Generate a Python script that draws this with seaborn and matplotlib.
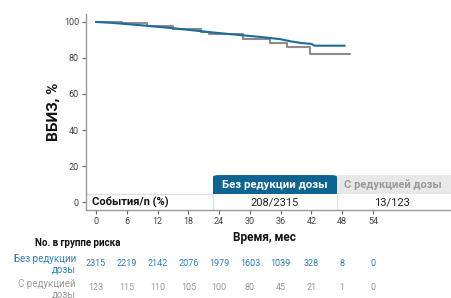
import matplotlib
matplotlib.use("Agg")
import matplotlib.pyplot as plt
from matplotlib.patches import Rectangle, FancyBboxPatch
import pandas as pd
import seaborn as sns

# кривые выживаемости (месяцы, %)
months_no_red = [0, 3, 6, 9, 12, 15, 18, 21, 24, 27, 30, 33, 36, 38, 40, 42, 42.6, 48.5]
surv_no_red = [100, 99.5, 98.8, 98.1, 97.3, 96.5, 95.6, 94.7, 93.8, 93.0, 92.2, 91.4, 90.4,
               89.2, 88.3, 87.8, 86.8, 86.8]
months_red = [0, 5, 10, 15, 20.5, 22, 28.6, 34, 37.2, 41.8, 49.5]
surv_red = [100, 99.3, 98.0, 96.0, 94.6, 93.3, 90.6, 88.2, 86.0, 82.0, 82.0]

x_ticks = [0, 6, 12, 18, 24, 30, 36, 42, 48, 54]
y_ticks = [0, 20, 40, 60, 80, 100]
risk_no_red = [2315, 2219, 2142, 2076, 1979, 1603, 1039, 328, 8, 0]
risk_red = [123, 115, 110, 105, 100, 80, 45, 21, 1, 0]
groups = ["Без редукции дозы", "С редукцией дозы"]
events = ["208/2315", "13/123"]

BLUE = "#1b6c9e"
BLUE_DARK = "#0e6490"
BLUE_TXT = "#2f82b8"
GREY = "#8c8c8c"
GREY_TXT = "#9a9a9a"

sns.set_style("white")
plt.rcParams["font.family"] = ["Roboto", "DejaVu Sans"]

W, H = 452, 298
fig = plt.figure(figsize=(W / 100, H / 100), dpi=100)


def fx(px):
    return px / W


def fy(py):
    return 1 - py / H


ax = fig.add_axes([fx(86), fy(210), fx(452) - fx(86), fy(14) - fy(210)])

df = pd.concat([
    pd.DataFrame({"t": months_no_red, "s": surv_no_red, "g": groups[0]}),
    pd.DataFrame({"t": months_red, "s": surv_red, "g": groups[1]}),
])
sns.lineplot(data=df[df.g == groups[1]], x="t", y="s", color=GREY, lw=1.5,
             drawstyle="steps-post", estimator=None, ax=ax, zorder=3)
sns.lineplot(data=df[df.g == groups[0]], x="t", y="s", color=BLUE, lw=1.5,
             estimator=None, ax=ax, zorder=4)

ax.set_xlim(-1.95, 69.4)
ax.set_ylim(-4.4, 104.4)
ax.set_xticks(x_ticks)
ax.set_yticks(y_ticks)
ax.tick_params(axis="both", direction="out", length=3, width=0.8, color="#666666",
               labelsize=6.5, labelcolor="#444444", pad=2, bottom=True, left=True)
for s in ["top", "right"]:
    ax.spines[s].set_visible(False)
for s in ["left", "bottom"]:
    ax.spines[s].set_color("#999999")
    ax.spines[s].set_linewidth(1.0)
ax.set_xlabel("")
ax.set_ylabel("ВБИЗ, %", fontsize=11, fontweight="bold", color="#111111", labelpad=2)

# таблица событий
hdr_bot, hdr_top = 4.4, 15.0
x1, x2, x3 = 22.8, 47.0, 69.4
ax.add_patch(FancyBboxPatch((x1, hdr_bot - 3), x2 - x1, hdr_top - hdr_bot + 3,
                            boxstyle="round,pad=0,rounding_size=1.2",
                            mutation_aspect=1.8 / 5.13 * 2.5,
                            fc=BLUE_DARK, ec="none", zorder=1, clip_on=False))
ax.add_patch(Rectangle((x2, hdr_bot), x3 - x2, hdr_top - hdr_bot, fc="#e8e8e8",
                       ec="none", zorder=1))
ax.add_patch(Rectangle((-1.95, -4.4), 71.35, hdr_bot + 4.4, fc="white", ec="none", zorder=1.5))
ax.plot([-1.95, x1], [hdr_bot, hdr_bot], color="#dddddd", lw=0.8, zorder=1.6)
for xv in [x1, x2]:
    ax.plot([xv, xv], [-4.4, hdr_bot], color="#dddddd", lw=0.8, zorder=1.6)
hy = (hdr_bot + hdr_top) / 2 - 0.3
ax.text((x1 + x2) / 2, hy, groups[0], color="white", fontsize=8.2, fontweight="bold",
        ha="center", va="center", zorder=2)
ax.text((x2 + x3) / 2 - 0.3, hy, groups[1], color=GREY_TXT, fontsize=8, fontweight="bold",
        ha="center", va="center", zorder=2)
ry = (hdr_bot - 4.4) / 2
ax.text(-0.8, ry, "События/n (%)", color="#111111", fontsize=8, fontweight="bold",
        ha="left", va="center", zorder=2)
ax.text((x1 + x2) / 2, ry, events[0], color="#222222", fontsize=8, ha="center",
        va="center", zorder=2)
ax.text((x2 + x3) / 2 - 0.5, ry, events[1], color="#222222", fontsize=8, ha="center",
        va="center", zorder=2)

# подпись оси X
fig.text(fx(264), fy(237), "Время, мес", fontsize=8.5, fontweight="bold",
         color="#111111", ha="center", va="center")

# число пациентов в группе риска
fig.text(fx(78), fy(243), "No. в группе риска", fontsize=7, fontweight="bold",
         color="#111111", ha="center", va="center")
fig.text(fx(76), fy(264), "Без редукции\nдозы", fontsize=7, color=BLUE_TXT,
         ha="right", va="center", linespacing=1.05)
fig.text(fx(76), fy(289), "С редукцией\nдозы", fontsize=7, color=GREY_TXT,
         ha="right", va="center", linespacing=1.05)
blend = matplotlib.transforms.blended_transform_factory(ax.transData, fig.transFigure)
for t, a, b in zip(x_ticks, risk_no_red, risk_red):
    fig.text(t, fy(264), str(a), transform=blend, fontsize=6.5, color=BLUE_TXT,
             ha="center", va="center")
    fig.text(t, fy(288), str(b), transform=blend, fontsize=6.5, color=GREY_TXT,
             ha="center", va="center")

fig.savefig("out.png", dpi=100)
